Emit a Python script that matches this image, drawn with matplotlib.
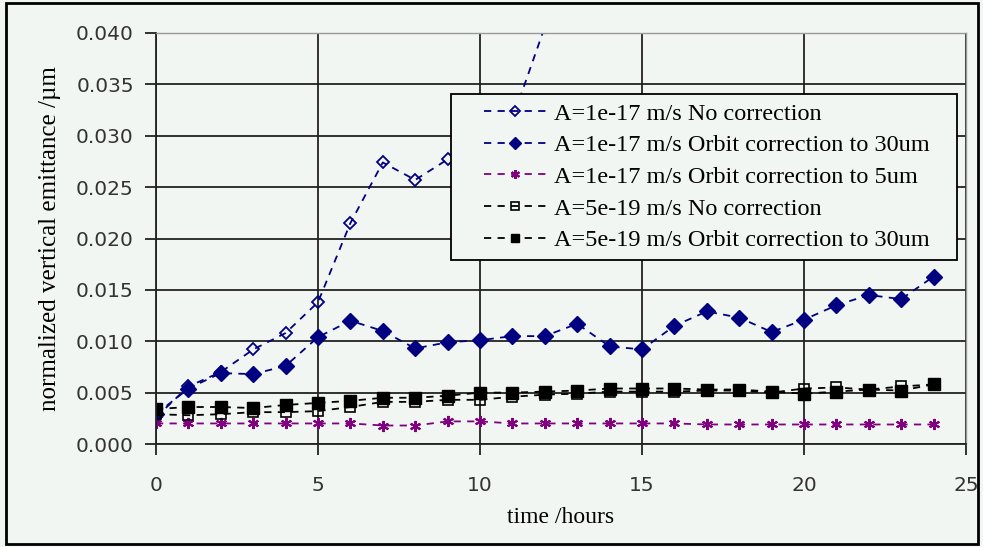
import matplotlib
matplotlib.use("Agg")
import matplotlib.pyplot as plt
from matplotlib.lines import Line2D
from matplotlib.legend_handler import HandlerLine2D
from matplotlib.patches import Rectangle

hours = list(range(25))
hours_nocorr = list(range(13))

# A=1e-17 m/s, no correction (runs off the top after ~12 h)
nocorr_17 = [0.0026, 0.0056, 0.0070, 0.0092, 0.0108, 0.0138, 0.0215, 0.0274,
             0.0257, 0.0277, 0.0290, 0.0316, 0.0406]
# A=1e-17 m/s, orbit correction to 30um
orbit30_17 = [0.0029, 0.0054, 0.0069, 0.0068, 0.0076, 0.0104, 0.0120, 0.0110,
              0.0093, 0.0099, 0.0101, 0.0105, 0.0105, 0.0117, 0.0095, 0.0092,
              0.0115, 0.0129, 0.0123, 0.0109, 0.0121, 0.0135, 0.0145, 0.0141,
              0.0163]
# A=1e-17 m/s, orbit correction to 5um
orbit5_17 = [0.0020, 0.0020, 0.0020, 0.0020, 0.0020, 0.0020, 0.0020, 0.0018,
             0.0018, 0.0022, 0.0022, 0.0020, 0.0020, 0.0020, 0.0020, 0.0020,
             0.0020, 0.0019, 0.0019, 0.0019, 0.0019, 0.0019, 0.0019, 0.0019,
             0.0019]
# A=5e-19 m/s, no correction
nocorr_19 = [0.0029, 0.0028, 0.0029, 0.0031, 0.0031, 0.0032, 0.0036, 0.0041,
             0.0041, 0.0043, 0.0043, 0.0046, 0.0048, 0.0049, 0.0051, 0.0051,
             0.0051, 0.0052, 0.0052, 0.0050, 0.0054, 0.0055, 0.0053, 0.0056,
             0.0058]
# A=5e-19 m/s, orbit correction to 30um
orbit30_19 = [0.0034, 0.0036, 0.0036, 0.0035, 0.0038, 0.0040, 0.0042, 0.0045,
              0.0045, 0.0047, 0.0050, 0.0050, 0.0051, 0.0052, 0.0054, 0.0054,
              0.0054, 0.0053, 0.0053, 0.0051, 0.0049, 0.0051, 0.0053, 0.0052,
              0.0058]

labels = ["A=1e-17 m/s No correction",
          "A=1e-17 m/s Orbit correction to 30um",
          "A=1e-17 m/s Orbit correction to 5um",
          "A=5e-19 m/s No correction",
          "A=5e-19 m/s Orbit correction to 30um"]

bg = "#f2f6f2"
navy = "#000080"
purple = "#800080"
ink = "#222222"
dash = (0, (4, 3.5))
serif = "Liberation Serif"

fig = plt.figure(figsize=(9.83, 5.47), dpi=100, facecolor=bg)
ax = fig.add_axes([156 / 983, 1 - 444 / 547, 810 / 983, 411 / 547])
ax.set_facecolor(bg)

ax.plot(hours_nocorr, nocorr_17, linestyle=dash, color=navy, lw=1.3,
        marker="D", ms=6, mfc="none", mec=navy, mew=1.3, label=labels[0])
ax.plot(hours, orbit30_17, linestyle=dash, color=navy, lw=1.3,
        marker="D", ms=8, mfc=navy, mec=navy, label=labels[1])
ax.plot(hours, orbit5_17, linestyle=dash, color=purple, lw=1.3,
        marker=(6, 2, 0), ms=8, mec=purple, mew=1.5, label=labels[2])
ax.plot(hours, nocorr_19, linestyle=dash, color="black", lw=1.3,
        marker="s", ms=7, mfc="none", mec="black", mew=1.2, label=labels[3])
ax.plot(hours, orbit30_19, linestyle=dash, color="black", lw=1.3,
        marker="s", ms=8, mfc="black", mec="black", label=labels[4])

ax.set_xlim(0, 25)
ax.set_ylim(0, 0.040)
ax.set_xticks(range(0, 26, 5))
ax.set_yticks([i * 0.005 for i in range(9)])
ax.set_yticklabels([f"{i * 0.005:.3f}" for i in range(9)])
ax.grid(True, color=ink, lw=1.3)
ax.set_axisbelow(True)
ax.tick_params(axis="both", direction="out", length=8, width=1.3,
               labelsize=14.5, colors=ink, labelcolor="#333333")
ax.tick_params(axis="x", pad=15)
ax.tick_params(axis="y", pad=8)
for side in ("left", "bottom"):
    ax.spines[side].set_color(ink)
    ax.spines[side].set_linewidth(1.3)
for side in ("top", "right"):
    ax.spines[side].set_color("#999999")
    ax.spines[side].set_linewidth(1.0)

ax.set_xlabel("time /hours", family=serif, fontsize=17, labelpad=9)
ax.set_ylabel("normalized vertical emittance /\u00b5m", family=serif,
              fontsize=18, labelpad=11)

leg = ax.legend(loc="upper left", mode="expand",
                bbox_to_anchor=(295 / 810, 0, 506 / 810, 350 / 411),
                prop={"family": serif, "size": 17.5}, frameon=True,
                fancybox=False, edgecolor="black", facecolor=bg,
                framealpha=1, handlelength=3.6, labelspacing=0.4,
                borderpad=0.35, handletextpad=0.3, borderaxespad=0,
                markerscale=0.8,
                handler_map={Line2D: HandlerLine2D(xpad=1.0)})
leg.get_frame().set_linewidth(1.3)

fig.patches.append(Rectangle((6 / 983, 3 / 547), 972 / 983, 541 / 547,
                             transform=fig.transFigure, fill=False,
                             edgecolor="black", lw=2))

fig.savefig("out.png", dpi=100, facecolor=bg)
